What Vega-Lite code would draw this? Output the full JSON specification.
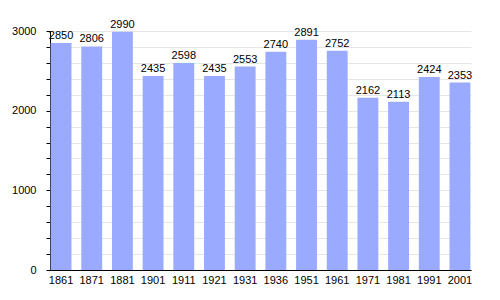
{
  "$schema": "https://vega.github.io/schema/vega-lite/v6.json",
  "autosize": {"type": "none"},
  "width": 421,
  "height": 239,
  "padding": {"left": 50, "top": 31, "right": 29, "bottom": 30},
  "background": "white",
  "config": {"view": {"stroke": null}, "font": "Liberation Sans"},
  "data": {"values": [
    {"year": "1861", "pop": 2850},
    {"year": "1871", "pop": 2806},
    {"year": "1881", "pop": 2990},
    {"year": "1901", "pop": 2435},
    {"year": "1911", "pop": 2598},
    {"year": "1921", "pop": 2435},
    {"year": "1931", "pop": 2553},
    {"year": "1936", "pop": 2740},
    {"year": "1951", "pop": 2891},
    {"year": "1961", "pop": 2752},
    {"year": "1971", "pop": 2162},
    {"year": "1981", "pop": 2113},
    {"year": "1991", "pop": 2424},
    {"year": "2001", "pop": 2353}
  ]},
  "encoding": {
    "x": {"field": "year", "type": "ordinal", "sort": null,
      "scale": {"paddingInner": 0.32, "paddingOuter": 0.02},
      "axis": {"title": null, "labelAngle": 0, "ticks": false, "domainColor": "black", "labelColor": "black", "labelFontSize": 11, "labelPadding": 4}},
    "y": {"field": "pop", "type": "quantitative",
      "scale": {"domain": [0, 3000], "nice": false},
      "axis": {"title": null, "values": [0,200,400,600,800,1000,1200,1400,1600,1800,2000,2200,2400,2600,2800,3000],
        "labelExpr": "datum.value % 1000 === 0 ? datum.label : ''",
        "format": "d", "gridColor": "#e6e6e6", "domainColor": "black", "tickColor": "black", "tickSize": 4,
        "labelColor": "black", "labelFontSize": 11, "labelPadding": 10}}
  },
  "layer": [
    {"mark": {"type": "bar", "color": "#99aaff"}},
    {"mark": {"type": "text", "baseline": "bottom", "dy": -2, "fontSize": 11, "color": "black"},
      "encoding": {"text": {"field": "pop", "type": "quantitative", "format": "d"}}}
  ]
}
